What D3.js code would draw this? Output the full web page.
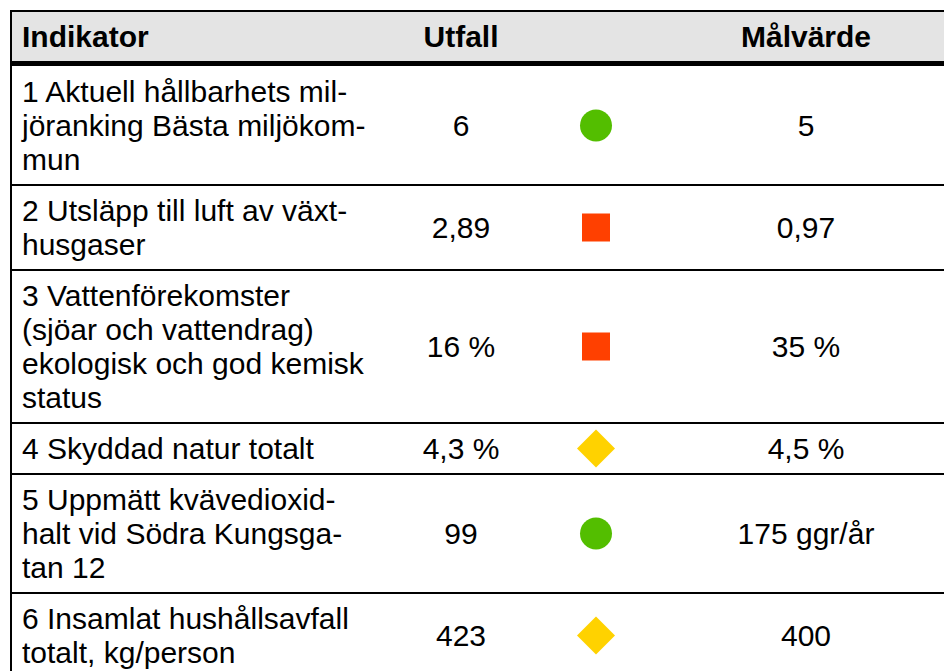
<!DOCTYPE html>
<html>
<head>
<meta charset="utf-8">
<script src="https://cdnjs.cloudflare.com/ajax/libs/d3/7.8.5/d3.min.js"></script>
<style>
html,body{margin:0;padding:0;background:#fff;}
svg{display:block;}
</style>
</head>
<body>
<script>
// table contents
const headers=["Indikator","Utfall","","Målvärde"];
const indicators=[
 ["1 Aktuell hållbarhets mil-","jöranking Bästa miljökom-","mun"],
 ["2 Utsläpp till luft av växt-","husgaser"],
 ["3 Vattenförekomster","(sjöar och vattendrag)","ekologisk och god kemisk","status"],
 ["4 Skyddad natur totalt"],
 ["5 Uppmätt kvävedioxid-","halt vid Södra Kungsga-","tan 12"],
 ["6 Insamlat hushållsavfall","totalt, kg/person"]
];
const outcomes=["6","2,89","16 %","4,3 %","99","423"];
const status=["green","red","red","yellow","green","yellow"];
const targets=["5","0,97","35 %","4,5 %","175 ggr/år","400"];

const W=944,H=671;
const fs=30, lineH=34, pad=17;
const font="'Liberation Sans', Arial, sans-serif";

let svg=d3.select("body").append("svg").attr("width",W).attr("height",H);

// columns
let colX=d3.scaleOrdinal().domain(["ind","out","sig","tgt"]).range([22,461,596,806]);

// rows: cumulative line units -> pixel
let headTop=11, headBot=61, bodyTop=66;
let heights=indicators.map(d=>d.length*lineH+pad);
let tops=[0].concat(Array.from(d3.cumsum(heights)));
let y=d3.scaleLinear().domain([0,1]).range([bodyTop,bodyTop+1]);

// header
svg.append("rect").attr("x",11).attr("y",headTop).attr("width",W).attr("height",headBot-headTop).attr("fill","#e4e4e4");
let hx=[colX("ind"),colX("out"),colX("sig"),colX("tgt")];
headers.forEach((h,i)=>{
  if(!h) return;
  svg.append("text").text(h).attr("x",hx[i]).attr("y",(headTop+headBot)/2).attr("dy","0.36em")
   .attr("text-anchor",i==0?"start":"middle").style("font",`bold ${fs}px ${font}`).attr("fill","#000");
});
svg.append("rect").attr("x",10).attr("y",headBot).attr("width",W).attr("height",bodyTop-headBot).attr("fill","#000");

// rows
let rows=svg.selectAll("g.row").data(indicators).enter().append("g").attr("class","row")
  .attr("transform",(d,i)=>`translate(0,${y(tops[i])})`);

rows.each(function(lines,i){
  let g=d3.select(this);
  let mid=heights[i]/2;
  lines.forEach((t,k)=>{
    g.append("text").text(t).attr("x",colX("ind")).attr("y",pad/2+lineH*(k+0.5)).attr("dy","0.36em")
     .style("font",`${fs}px ${font}`).attr("fill","#000");
  });
  g.append("text").text(outcomes[i]).attr("x",colX("out")).attr("y",mid).attr("dy","0.36em")
   .attr("text-anchor","middle").style("font",`${fs}px ${font}`);
  g.append("text").text(targets[i]).attr("x",colX("tgt")).attr("y",mid).attr("dy","0.36em")
   .attr("text-anchor","middle").style("font",`${fs}px ${font}`);
  let cx=colX("sig");
  if(status[i]=="green"){
    g.append("circle").attr("cx",cx).attr("cy",mid).attr("r",16).attr("fill","#53be00");
  } else if(status[i]=="red"){
    g.append("rect").attr("x",cx-14).attr("y",mid-14).attr("width",28).attr("height",28).attr("fill","#ff4000");
  } else {
    g.append("path").attr("d",`M${cx},${mid-19}L${cx+19},${mid}L${cx},${mid+19}L${cx-19},${mid}Z`).attr("fill","#ffd200");
  }
  if(i<indicators.length-1)
    g.append("rect").attr("x",10).attr("y",heights[i]-1).attr("width",W).attr("height",2).attr("fill","#000");
});

// outer borders
svg.append("rect").attr("x",10).attr("y",10).attr("width",W).attr("height",2).attr("fill","#000");
svg.append("rect").attr("x",10).attr("y",10).attr("width",2).attr("height",H).attr("fill","#000");
</script>
</body>
</html>
